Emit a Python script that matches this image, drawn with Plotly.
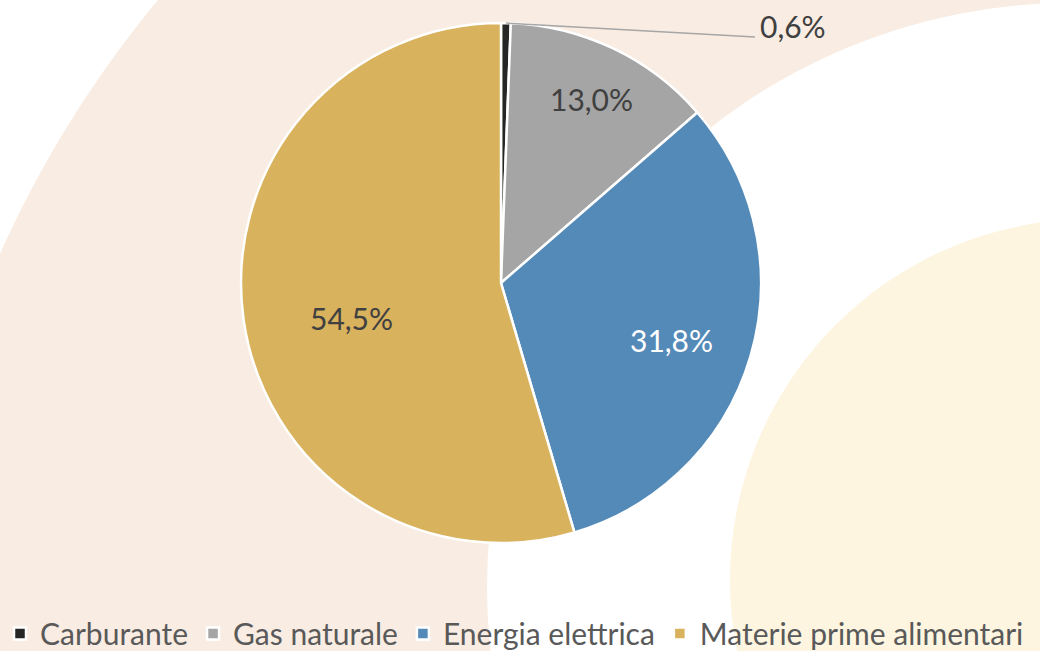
import plotly.graph_objects as go
import math

labels = ["Carburante", "Gas naturale", "Energia elettrica", "Materie prime alimentari"]
values = [0.6, 13.0, 31.8, 54.5]
colors = ["#262626", "#A5A5A5", "#548AB8", "#D9B25E"]
text_colors = ["#404040", "#404040", "#FFFFFF", "#404040"]
label_radius = [None, 0.79, 0.69, 0.59]   # fraction of pie radius for label placement
label_turn = [0.0, 0.6, 2.3, -4.8]         # small angular nudge (deg) for label placement

W, H = 1040, 651
FONT = "Lato"

def fmt(v):
    return f"{v:.1f}".replace(".", ",") + "%"

# pie geometry (pixels)
cx, cy, R = 501, 283, 260
dom_x = [(cx - R) / W, (cx + R) / W]
dom_y = [1 - (cy + R) / H, 1 - (cy - R) / H]

def px2paper(x, y):
    return x / W, 1 - y / H

fig = go.Figure()
fig.add_trace(go.Pie(
    labels=labels, values=values, sort=False, direction="clockwise", rotation=0,
    marker=dict(colors=colors, line=dict(color="white", width=2.5)),
    textinfo="none",
    domain=dict(x=dom_x, y=dom_y),
    hoverinfo="label+value",
))

# background circles (paper coords)
def circle(xc, yc, r, color):
    x0, y1 = px2paper(xc - r, yc - r)
    x1, y0 = px2paper(xc + r, yc + r)
    return dict(type="circle", xref="paper", yref="paper", x0=x0, x1=x1, y0=y0, y1=y1,
                fillcolor=color, line=dict(width=0), layer="below")

shapes = [
    circle(1000, 700, 1095, "#F9ECE2"),
    circle(1071, 587, 584, "#FFFFFF"),
    circle(1091, 580, 361, "#FDF5DF"),
]

total = sum(values)
annotations = []
cum = 0.0
for i, v in enumerate(values):
    mid_deg = (cum + v / 2) / total * 360
    cum += v
    if label_radius[i] is None:
        mid = math.radians(mid_deg)
        tipx, tipy = cx + R * math.sin(mid), cy - R * math.cos(mid)
        ex, ey = 755, 37
        x0, y0 = px2paper(tipx, tipy)
        x1, y1 = px2paper(ex, ey)
        shapes.append(dict(type="line", xref="paper", yref="paper", x0=x0, y0=y0, x1=x1, y1=y1,
                           line=dict(color="#A6A6A6", width=1.5), layer="above"))
        lx, ly = px2paper(ex + 3, 26)
        annotations.append(dict(x=lx, y=ly, xref="paper", yref="paper", text=fmt(v),
                                showarrow=False, xanchor="left", yanchor="middle",
                                font=dict(family=FONT, size=30, color=text_colors[i])))
    else:
        mid = math.radians(mid_deg + label_turn[i])
        r = R * label_radius[i]
        lx, ly = px2paper(cx + r * math.sin(mid), cy - r * math.cos(mid))
        annotations.append(dict(x=lx, y=ly, xref="paper", yref="paper", text=fmt(v),
                                showarrow=False, xanchor="center", yanchor="middle",
                                font=dict(family=FONT, size=30, color=text_colors[i])))

fig.update_layout(
    width=W, height=H,
    margin=dict(l=0, r=0, t=0, b=0, autoexpand=False),
    paper_bgcolor="white", plot_bgcolor="white",
    shapes=shapes,
    annotations=annotations,
    showlegend=True,
    legend=dict(orientation="h", x=0.0, y=-0.013, xanchor="left", yanchor="bottom",
                font=dict(family=FONT, size=30, color="#595959"),
                bgcolor="rgba(0,0,0,0)", itemwidth=30, tracegroupgap=0),
)

fig.write_html("out.html", config={"displayModeBar": False},
               post_script="document.body.style.margin='0';document.body.style.padding='0';")
